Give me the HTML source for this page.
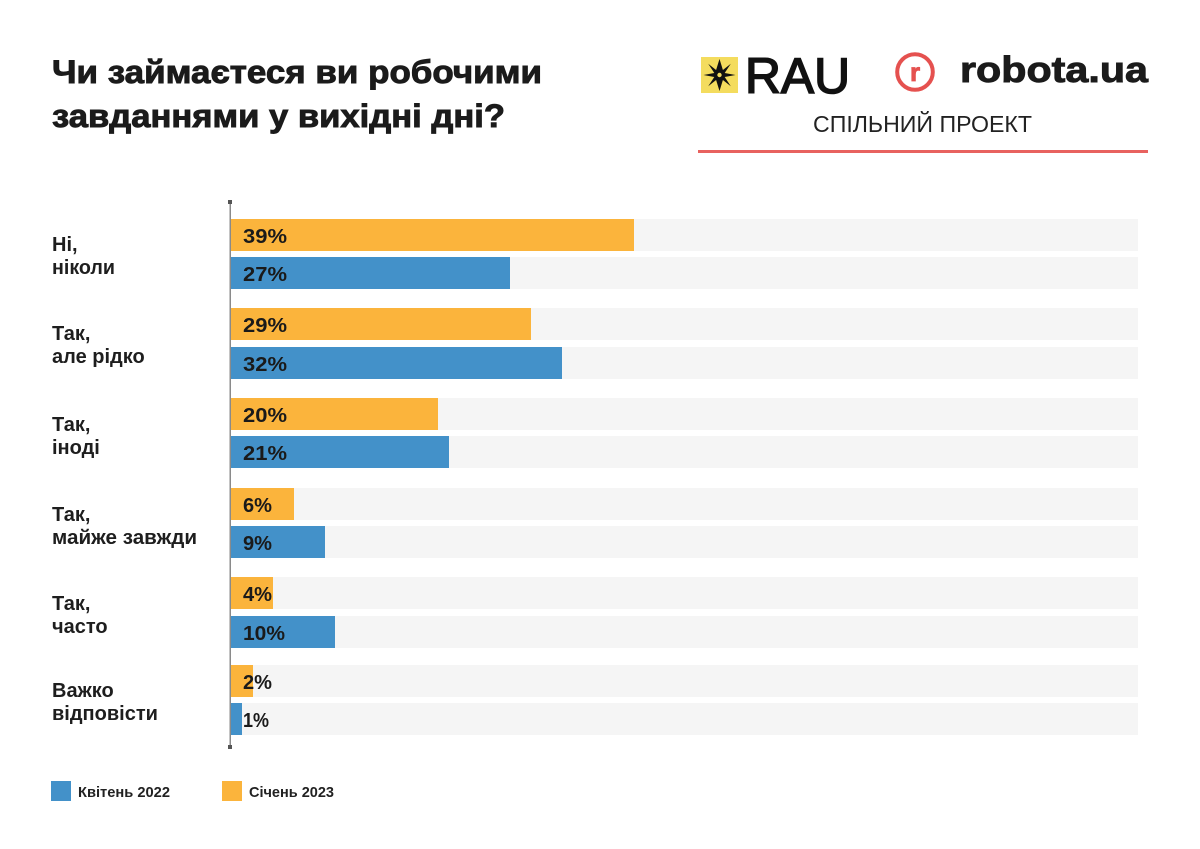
<!DOCTYPE html>
<html>
<head>
<meta charset="utf-8">
<style>
  html,body{margin:0;padding:0;background:#fff;}
  svg{display:block;}
  text{font-family:"Liberation Sans","DejaVu Sans",sans-serif;}
</style>
</head>
<body>
<svg width="1200" height="849" viewBox="0 0 1200 849" xmlns="http://www.w3.org/2000/svg">
  <rect width="1200" height="849" fill="#ffffff"/>

  <!-- Title -->
  <text x="52" y="83" font-size="32" font-weight="bold" fill="#1b1b1b" stroke="#1b1b1b" stroke-width="0.9" textLength="490" lengthAdjust="spacingAndGlyphs">Чи займаєтеся ви робочими</text>
  <text x="52" y="127" font-size="32" font-weight="bold" fill="#1b1b1b" stroke="#1b1b1b" stroke-width="0.9" textLength="453" lengthAdjust="spacingAndGlyphs">завданнями у вихідні дні?</text>

  <!-- RAU logo -->
  <rect x="701" y="57" width="37" height="36" fill="#f4dc5e"/>
  <g transform="translate(719.5,75)" fill="#111">
    <polygon points="0,-16 3.4,-5 11.3,-11.3 5.2,-2 16,0 5.2,2 11.3,11.3 3.4,5 0,16 -3.4,5 -11.3,11.3 -5.2,2 -16,0 -5.2,-2 -11.3,-11.3 -3.4,-5"/>
    <circle r="2.2" fill="#f4dc5e"/>
  </g>
  <text x="745" y="93" font-size="50" fill="#111" stroke="#111" stroke-width="1.6" textLength="105" lengthAdjust="spacingAndGlyphs">RAU</text>

  <!-- robota.ua logo -->
  <circle cx="915" cy="72" r="17.8" fill="none" stroke="#e5514f" stroke-width="4"/>
  <text x="915" y="81" font-size="26" font-weight="bold" fill="#e5514f" stroke="#e5514f" stroke-width="0.8" text-anchor="middle">r</text>
  <text x="960" y="82" font-size="36" font-weight="bold" fill="#1b1b1b" stroke="#1b1b1b" stroke-width="0.9" textLength="188" lengthAdjust="spacingAndGlyphs">robota.ua</text>

  <text x="813" y="132" font-size="23" fill="#222" textLength="219" lengthAdjust="spacingAndGlyphs">СПІЛЬНИЙ ПРОЕКТ</text>
  <rect x="698" y="150" width="450" height="3" fill="#e8625f"/>

  <!-- Tracks -->
  <g fill="#f5f5f5">
    <rect x="232" y="219" width="906" height="32"/>
    <rect x="232" y="257" width="906" height="32"/>
    <rect x="232" y="308" width="906" height="32"/>
    <rect x="232" y="347" width="906" height="32"/>
    <rect x="232" y="398" width="906" height="32"/>
    <rect x="232" y="436" width="906" height="32"/>
    <rect x="232" y="488" width="906" height="32"/>
    <rect x="232" y="526" width="906" height="32"/>
    <rect x="232" y="577" width="906" height="32"/>
    <rect x="232" y="616" width="906" height="32"/>
    <rect x="232" y="665" width="906" height="32"/>
    <rect x="232" y="703" width="906" height="32"/>
  </g>

  <!-- Orange bars -->
  <g fill="#fbb43c">
    <rect x="231" y="219" width="403" height="32"/>
    <rect x="231" y="308" width="300" height="32"/>
    <rect x="231" y="398" width="207" height="32"/>
    <rect x="231" y="488" width="63" height="32"/>
    <rect x="231" y="577" width="42" height="32"/>
    <rect x="231" y="665" width="22" height="32"/>
  </g>
  <!-- Blue bars -->
  <g fill="#4391c9">
    <rect x="231" y="257" width="279" height="32"/>
    <rect x="231" y="347" width="331" height="32"/>
    <rect x="231" y="436" width="218" height="32"/>
    <rect x="231" y="526" width="94" height="32"/>
    <rect x="231" y="616" width="104" height="32"/>
    <rect x="231" y="703" width="11" height="32"/>
  </g>

  <!-- Axis -->
  <rect x="229.5" y="202" width="1.5" height="545" fill="#8a8a8a"/>
  <rect x="228" y="200" width="4" height="4" fill="#555"/>
  <rect x="228" y="745" width="4" height="4" fill="#555"/>

  <!-- Bar value labels -->
  <g font-size="20" font-weight="bold" fill="#1a1a1a">
    <text x="243" y="243" textLength="44" lengthAdjust="spacingAndGlyphs">39%</text>
    <text x="243" y="281" textLength="44" lengthAdjust="spacingAndGlyphs">27%</text>
    <text x="243" y="332" textLength="44" lengthAdjust="spacingAndGlyphs">29%</text>
    <text x="243" y="371" textLength="44" lengthAdjust="spacingAndGlyphs">32%</text>
    <text x="243" y="422" textLength="44" lengthAdjust="spacingAndGlyphs">20%</text>
    <text x="243" y="460" textLength="44" lengthAdjust="spacingAndGlyphs">21%</text>
    <text x="243" y="512" textLength="29" lengthAdjust="spacingAndGlyphs">6%</text>
    <text x="243" y="550" textLength="29" lengthAdjust="spacingAndGlyphs">9%</text>
    <text x="243" y="601" textLength="29" lengthAdjust="spacingAndGlyphs">4%</text>
    <text x="243" y="640" textLength="42" lengthAdjust="spacingAndGlyphs">10%</text>
    <text x="243" y="689" textLength="29" lengthAdjust="spacingAndGlyphs">2%</text>
    <text x="243" y="727" textLength="26" lengthAdjust="spacingAndGlyphs">1%</text>
  </g>

  <!-- Category labels -->
  <g font-size="20" font-weight="bold" fill="#1e1e1e">
    <text x="52" y="251">Ні,</text>
    <text x="52" y="274" textLength="63" lengthAdjust="spacingAndGlyphs">ніколи</text>
    <text x="52" y="340">Так,</text>
    <text x="52" y="363">але рідко</text>
    <text x="52" y="431">Так,</text>
    <text x="52" y="454">іноді</text>
    <text x="52" y="521">Так,</text>
    <text x="52" y="544" textLength="145" lengthAdjust="spacingAndGlyphs">майже завжди</text>
    <text x="52" y="610">Так,</text>
    <text x="52" y="633">часто</text>
    <text x="52" y="697">Важко</text>
    <text x="52" y="720">відповісти</text>
  </g>

  <!-- Legend -->
  <rect x="51" y="781" width="20" height="20" fill="#4391c9"/>
  <text x="78" y="797" font-size="15" font-weight="bold" fill="#222" textLength="92" lengthAdjust="spacingAndGlyphs">Квітень 2022</text>
  <rect x="222" y="781" width="20" height="20" fill="#fbb43c"/>
  <text x="249" y="797" font-size="15" font-weight="bold" fill="#222" textLength="85" lengthAdjust="spacingAndGlyphs">Січень 2023</text>
</svg>
</body>
</html>
